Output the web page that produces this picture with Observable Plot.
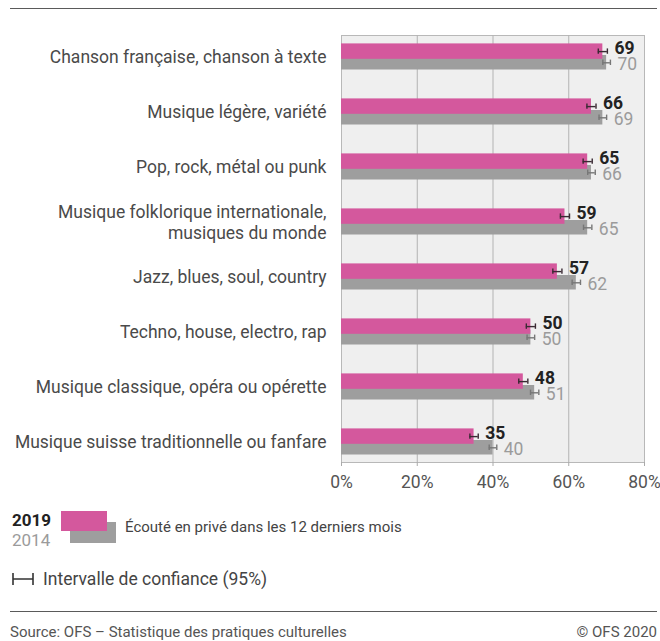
<!DOCTYPE html>
<html>
<head>
<meta charset="utf-8">
<script src="https://cdn.jsdelivr.net/npm/d3@7"></script>
<script src="https://cdn.jsdelivr.net/npm/@observablehq/plot@0.6"></script>
<style>
  html, body { margin: 0; padding: 0; background: #fff; }
  body { font-family: Roboto, "Noto Sans", sans-serif; }
  #wrap { position: relative; width: 660px; height: 641px; overflow: hidden; }
  #chart { position: absolute; left: 0; top: 0; }
  .hr { position: absolute; left: 10px; width: 647px; height: 0; border-top: 1.5px solid #5a5a5a; }
  .abs { position: absolute; white-space: nowrap; }
</style>
</head>
<body>
<div id="wrap">
  <div class="hr" style="top:8px"></div>
  <div id="chart"></div>
  <div class="abs" style="left:12px; top:510px; font-size:17px; font-weight:700; color:#222; line-height:20px;">2019</div>
  <div class="abs" style="left:12px; top:530px; font-size:17px; color:#9b9b9b; line-height:20px;">2014</div>
  <div class="abs" style="left:70px; top:522px; width:46px; height:21px; background:#9e9e9e;"></div>
  <div class="abs" style="left:61px; top:511px; width:46px; height:20px; background:#d4589d;"></div>
  <div class="abs" style="left:125px; top:517px; font-size:15px; color:#444; line-height:20px;">Écouté en privé dans les 12 derniers mois</div>
  <svg class="abs" style="left:10px; top:571px;" width="26" height="16">
    <path d="M3,2V14M23,2V14M3,8H23" stroke="#333" stroke-width="1.6" fill="none"/>
  </svg>
  <div class="abs" style="left:43px; top:568px; font-size:17.5px; color:#444; line-height:22px;">Intervalle de confiance (95%)</div>
  <div class="hr" style="top:611px"></div>
  <div class="abs" style="left:10px; top:622px; font-size:15px; color:#555; line-height:20px;">Source: OFS – Statistique des pratiques culturelles</div>
  <div class="abs" style="right:3px; top:622px; font-size:15px; color:#555; line-height:20px;">© OFS 2020</div>
</div>
<script>
const categories = [
  "Chanson française, chanson à texte",
  "Musique légère, variété",
  "Pop, rock, métal ou punk",
  "Musique folklorique internationale,\nmusiques du monde",
  "Jazz, blues, soul, country",
  "Techno, house, electro, rap",
  "Musique classique, opéra ou opérette",
  "Musique suisse traditionnelle ou fanfare"
];
const values2019 = [69, 66, 65, 59, 57, 50, 48, 35];
const values2014 = [70, 69, 66, 65, 62, 50, 51, 40];
const ci2019 = [1.2, 1.2, 1.2, 1.2, 1.2, 1.2, 1.2, 1.1];
const ci2014 = [1.0, 1.0, 1.0, 1.1, 1.1, 1.0, 1.1, 1.0];
const xTicks = [0, 20, 40, 60, 80];
const gridTicks = [20, 40, 60];

const rows2019 = categories.map((c, i) => ({cat: c, v: values2019[i], ci: ci2019[i]}));
const rows2014 = categories.map((c, i) => ({cat: c, v: values2014[i], ci: ci2014[i]}));

const PINK = "#d4589d", GREY = "#9e9e9e";
const font = "Roboto, 'Noto Sans', sans-serif";

const plot = Plot.plot({
  width: 660,
  height: 500,
  marginTop: 35,
  marginBottom: 38,
  marginLeft: 341,
  marginRight: 16,
  style: {fontFamily: font, background: "transparent"},
  x: {domain: [0, 80], label: null},
  y: {type: "band", domain: categories, range: [27.3, 471.7], padding: 0, label: null, axis: null},
  marks: [
    Plot.frame({fill: "#efefef", stroke: "#b8b8b8"}),
    Plot.ruleX(gridTicks, {stroke: "#b3b3b3"}),
    Plot.axisX(xTicks, {tickFormat: d => d + "%", tickSize: 4, tickPadding: 9, fontSize: 17.5, fill: "#555", stroke: "#aaa", label: null}),
    Plot.text(categories, {y: d => d, frameAnchor: "left", dx: -15, textAnchor: "end", fontSize: 17.5, fill: "#4a4a4a", lineHeight: 1.15}),
    Plot.barX(rows2014, {x: "v", y: "cat", fill: GREY, insetTop: 26, insetBottom: 14.5}),
    Plot.barX(rows2019, {x: "v", y: "cat", fill: PINK, insetTop: 14.4, insetBottom: 25.2}),
    // confidence intervals 2014
    Plot.ruleY(rows2014, {y: "cat", x1: d => d.v - d.ci, x2: d => d.v + d.ci, stroke: "#777", strokeWidth: 1.4, dy: 5.8}),
    Plot.tickX(rows2014, {x: d => d.v - d.ci, y: "cat", stroke: "#777", strokeWidth: 1.4, insetTop: 24.8, insetBottom: 24.8, dy: 5.8}),
    Plot.tickX(rows2014, {x: d => d.v + d.ci, y: "cat", stroke: "#777", strokeWidth: 1.4, insetTop: 24.8, insetBottom: 24.8, dy: 5.8}),
    // confidence intervals 2019
    Plot.ruleY(rows2019, {y: "cat", x1: d => d.v - d.ci, x2: d => d.v + d.ci, stroke: "#3a2a33", strokeWidth: 1.4, dy: -5.4}),
    Plot.tickX(rows2019, {x: d => d.v - d.ci, y: "cat", stroke: "#3a2a33", strokeWidth: 1.4, insetTop: 24.8, insetBottom: 24.8, dy: -5.4}),
    Plot.tickX(rows2019, {x: d => d.v + d.ci, y: "cat", stroke: "#3a2a33", strokeWidth: 1.4, insetTop: 24.8, insetBottom: 24.8, dy: -5.4}),
    // value labels
    Plot.text(rows2019, {x: d => d.v + d.ci, y: "cat", text: d => String(d.v), dx: 7, dy: -9, textAnchor: "start", fontSize: 17.5, fontWeight: "bold", fill: "#222"}),
    Plot.text(rows2014, {x: d => d.v + d.ci, y: "cat", text: d => String(d.v), dx: 7, dy: 7, textAnchor: "start", fontSize: 17.5, fill: "#9b9b9b"})
  ]
});
document.getElementById("chart").appendChild(plot);
</script>
</body>
</html>
